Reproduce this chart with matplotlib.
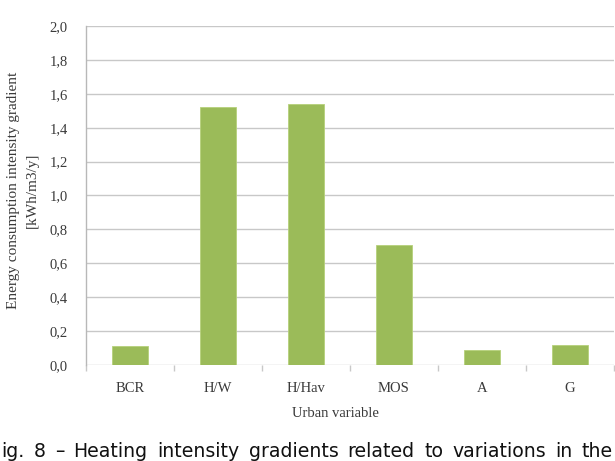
import matplotlib
matplotlib.use("Agg")
import matplotlib.pyplot as plt
import numpy as np

categories = ["BCR", "H/W", "H/Hav", "MOS", "A", "G"]
values = [0.115, 1.52, 1.54, 0.71, 0.09, 0.12]
yticks = [0.0, 0.2, 0.4, 0.6, 0.8, 1.0, 1.2, 1.4, 1.6, 1.8, 2.0]
ytick_labels = ["0,0", "0,2", "0,4", "0,6", "0,8", "1,0", "1,2", "1,4", "1,6", "1,8", "2,0"]
caption_words = ["ig.", "8", "–", "Heating", "intensity", "gradients", "related",
                 "to", "variations", "in", "the"]

W, H = 615, 461
fig = plt.figure(figsize=(W / 100, H / 100), dpi=100)
ax = fig.add_axes([86 / W, 1 - 365 / H, (614 - 86) / W, (365 - 26) / H])

serif = "Liberation Serif"
tcol = "#3a3a3a"
x = np.arange(len(categories))
ax.bar(x, values, width=0.41, color="#9bbb59", edgecolor="#b6d17a", linewidth=0.6, zorder=3)

ax.set_xlim(-0.5, len(categories) - 0.5)
ax.set_ylim(0, 2.0)
ax.set_yticks(yticks)
ax.set_yticklabels(ytick_labels, fontfamily=serif, fontsize=10.5, color=tcol)
ax.set_xticks(x)
ax.set_xticklabels(categories, fontfamily=serif, fontsize=10.5, color=tcol)
ax.tick_params(axis="y", length=0, pad=13)
ax.tick_params(axis="x", length=0, pad=12)
# category boundary tick marks
ax.set_xticks(np.arange(len(categories) + 1) - 0.5, minor=True)
ax.tick_params(axis="x", which="minor", length=4, color="#c8c8c8", width=1)

ax.grid(axis="y", color="#c8c8c8", linewidth=1, zorder=0)
for s in ["top", "right", "bottom"]:
    ax.spines[s].set_visible(False)
ax.spines["left"].set_color("#b8b8b8")
ax.spines["left"].set_linewidth(1)

fig.text(335 / W, 1 - 413 / H, "Urban variable", ha="center", va="center",
         fontfamily=serif, fontsize=10.5, color=tcol)
fig.text(23 / W, 1 - 190 / H, "Energy consumption intensity gradient\n[kWh/m3/y]",
         ha="center", va="center", rotation=90, fontfamily=serif, fontsize=11,
         color=tcol, linespacing=1.5, multialignment="center")

# justified caption line spanning the figure width
texts = [fig.text(0, 1 - 457 / H, w, ha="left", va="baseline",
                  fontfamily="DejaVu Sans", fontsize=13.6, color="#111111")
         for w in caption_words]
fig.canvas.draw()
r = fig.canvas.get_renderer()
widths = [t.get_window_extent(r).width for t in texts]
left, right = 1, 613
gap = (right - left - sum(widths)) / (len(texts) - 1)
xp = left
for t, wd in zip(texts, widths):
    t.set_x(xp / W)
    xp += wd + gap

fig.savefig("out.png", dpi=100)
